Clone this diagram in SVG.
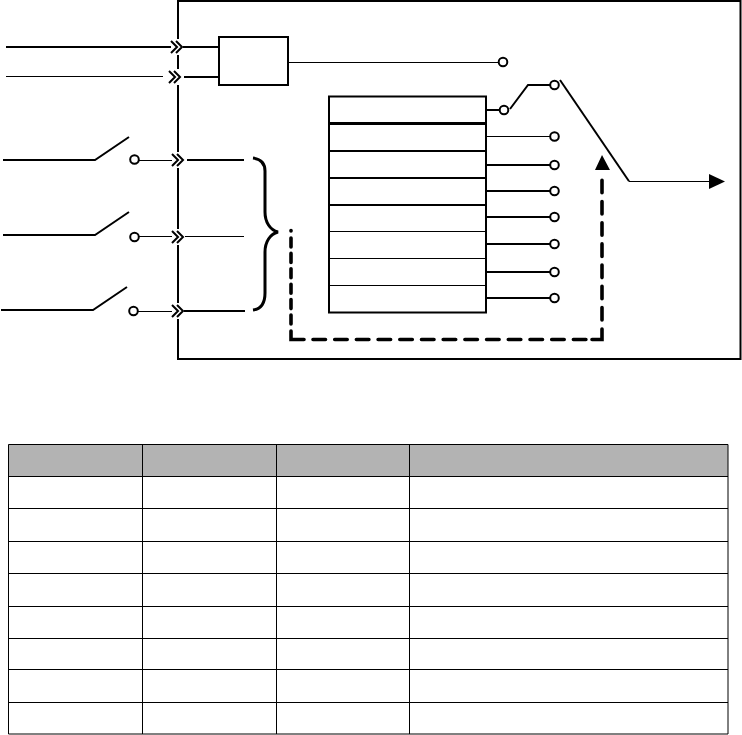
<svg xmlns="http://www.w3.org/2000/svg" width="742" height="735" viewBox="0 0 742 735">
<defs>
<style>
.l{fill:none;stroke:#000;stroke-width:2}
.t{fill:none;stroke:#000;stroke-width:1}
.m{fill:none;stroke:#000;stroke-width:2}
.c{fill:#fff;stroke:#000;stroke-width:2}
.ch{fill:none;stroke:#000;stroke-width:2}
.d{fill:none;stroke:#000;stroke-width:3.600;stroke-linecap:round}
</style>
<g id="chev"><rect x="-6" y="-8" width="12" height="16" fill="#fff"/><path class="ch" d="M-6-6 0 0-6 6M-1-6 5 0-1 6"/></g>
</defs>
<rect width="742" height="735" fill="#fff"/>
<g id="frame"><rect class="m" x="178" y="1" width="562.500" height="358"/></g>
<g id="connectors">
<path class="l" d="M6 47H172M183 47H219"/>
<path class="t" d="M6 76.500H163"/>
<path class="l" d="M184 77H219"/>
<path class="t" d="M289 62.500H499"/>
<path class="l" d="M3 160H95L129 137"/>
<path class="t" d="M139 160.500H173"/>
<path class="l" d="M187 160H244"/>
<path class="l" d="M3 235H95L129 212"/>
<path class="t" d="M139 236.500H173M185 236.500H244"/>
<path class="l" d="M1 310H93L127 287"/>
<path class="t" d="M138 311.500H173"/>
<path class="l" d="M184 311H245"/>
<path class="l" d="M486 110H500M510 109 528 85H550"/>
<path class="t" d="M486 136.500H550"/>
<path class="l" d="M486 165H550M486 191H550M486 217H550M486 244H550M486 272H550M486 298H550"/>
<path class="l" d="M560 80 629 181.200"/>
<path class="t" d="M629 181.500H710"/>
<path fill="#000" d="M709 174 725 181.500 709 189Z"/>
<path class="d" d="M291 230.500V231"/>
<path class="d" stroke-dasharray="9 6.400" d="M291 238V325"/>
<path class="d" d="M291 331V339.500H304"/>
<path class="d" stroke-dasharray="12.500 9.200" d="M313 339.500H590"/>
<path class="d" d="M592 339.500H602V329"/>
<path class="d" stroke-dasharray="12.500 8.700" d="M602 320V176"/>
<path fill="#000" d="M602 155 595 170H610Z"/>
</g>
<g id="brace"><path fill="none" stroke="#000" stroke-width="3" d="M253 158C261 159 265 163 265 171V212C265 222 270 230 278 232C270 234 265 242 265 252V293C265 304 261 309 253 310"/></g>
<g id="chevrons">
<use href="#chev" x="177" y="47"/>
<use href="#chev" x="175" y="77"/>
<use href="#chev" x="178" y="160"/>
<use href="#chev" x="178" y="237"/>
<use href="#chev" x="178" y="311"/>
</g>
<g id="box"><rect class="m" x="219" y="37" width="69" height="48"/></g>
<g id="stack">
<rect class="m" x="329" y="96.500" width="157" height="216"/>
<path stroke="#000" stroke-width="3" fill="none" d="M329 123.500H486"/>
<path class="l" d="M329 151H486M329 178H486M329 205H486"/>
<path class="t" d="M329 231.500H486M329 258.500H486M329 285.500H486"/>
</g>
<g id="terminals">
<circle class="c" cx="134.500" cy="159.500" r="4.300"/>
<circle class="c" cx="134.500" cy="237" r="4.300"/>
<circle class="c" cx="133.500" cy="311" r="4.300"/>
<circle class="c" cx="503" cy="62" r="4.300"/>
<circle class="c" cx="504" cy="110" r="4.300"/>
<circle class="c" cx="554.500" cy="85" r="4.300"/>
<circle class="c" cx="554.500" cy="136.500" r="4.300"/>
<circle class="c" cx="554.500" cy="165" r="4.300"/>
<circle class="c" cx="554.500" cy="191" r="4.300"/>
<circle class="c" cx="554.500" cy="217" r="4.300"/>
<circle class="c" cx="554.500" cy="244" r="4.300"/>
<circle class="c" cx="554.500" cy="272" r="4.300"/>
<circle class="c" cx="554.500" cy="298" r="4.300"/>
</g>
<g id="table">
<rect x="8.500" y="444.500" width="719.500" height="32" fill="#b3b3b3"/>
<path fill="none" stroke="#000" stroke-width="1" d="M8.500 444.500H728V734H8.500ZM142.500 444.500V734M276.500 444.500V734M409.500 444.500V734M8.500 476.500H728M8.500 508.500H728M8.500 541.500H728M8.500 573.500H728M8.500 606.500H728M8.500 638.500H728M8.500 669.500H728M8.500 702.500H728"/>
</g>
</svg>
